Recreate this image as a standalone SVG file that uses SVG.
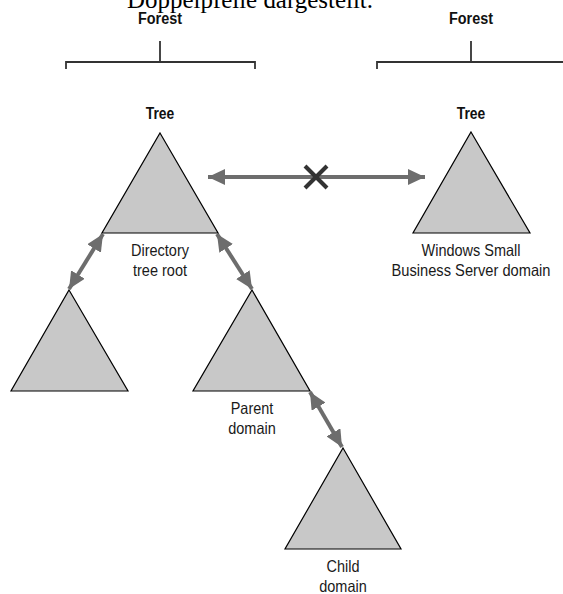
<svg xmlns="http://www.w3.org/2000/svg" width="563" height="594" viewBox="0 0 563 594">
  <style>
    .caption { font-family: "Liberation Serif", "Times New Roman", serif; font-size: 26px; fill: #000; }
    .head { font-family: "Liberation Sans", Arial, sans-serif; font-size: 16px; font-weight: bold; fill: #111; text-anchor: middle; }
    .label { font-family: "Liberation Sans", Arial, sans-serif; font-size: 16.5px; fill: #1a1a1a; text-anchor: middle; }
    .tri { fill: #c8c8c8; stroke: #000; stroke-width: 1.2; stroke-linejoin: miter; }
    .bracket { fill: none; stroke: #333; stroke-width: 1.8; }
    .link { stroke: #6d6d6d; stroke-width: 4; fill: none; marker-start: url(#head); marker-end: url(#head); }
    .cross { stroke: #333; stroke-width: 4; stroke-linecap: butt; }
  </style>
  <defs>
    <marker id="head" viewBox="0 0 17 16" refX="17" refY="8" markerWidth="17" markerHeight="16" markerUnits="userSpaceOnUse" orient="auto-start-reverse">
      <path d="M0,0 L17,8 L0,16 Z" fill="#6d6d6d"/>
    </marker>
  </defs>

  <rect width="563" height="594" fill="#fff"/>

  <!-- running text from the page above, cut by the top edge -->
  <text class="caption" x="127" y="8" textLength="246" lengthAdjust="spacingAndGlyphs">Doppelpfeile dargestellt.</text>

  <!-- forest brackets -->
  <g id="forest-left">
    <text class="head" x="160" y="24" textLength="44" lengthAdjust="spacingAndGlyphs">Forest</text>
    <path class="bracket" d="M160,41 V62 M66,69 V62 H255 V69"/>
  </g>
  <g id="forest-right">
    <text class="head" x="471" y="24" textLength="44" lengthAdjust="spacingAndGlyphs">Forest</text>
    <path class="bracket" d="M471,41 V62 M377,69 V62 H565"/>
  </g>

  <!-- connectors -->
  <g id="connectors">
    <line class="link" x1="208" y1="177" x2="425" y2="177"/>
    <line class="link" x1="103" y1="234" x2="69" y2="289"/>
    <line class="link" x1="217" y1="234" x2="252" y2="289"/>
    <line class="link" x1="310" y1="392" x2="342" y2="447"/>
    <g id="blocked">
      <line class="cross" x1="305" y1="166" x2="327" y2="188"/>
      <line class="cross" x1="327" y1="166" x2="305" y2="188"/>
    </g>
  </g>

  <!-- domain trees -->
  <g id="tree-root">
    <text class="head" x="160" y="119" textLength="28.5" lengthAdjust="spacingAndGlyphs">Tree</text>
    <polygon class="tri" points="160,133 218,233 102,233"/>
    <text class="label" x="160" y="256" textLength="58" lengthAdjust="spacingAndGlyphs">Directory</text>
    <text class="label" x="160" y="276" textLength="54" lengthAdjust="spacingAndGlyphs">tree root</text>
  </g>
  <g id="tree-sbs">
    <text class="head" x="471" y="119" textLength="28.5" lengthAdjust="spacingAndGlyphs">Tree</text>
    <polygon class="tri" points="471,132 530,233 413,233"/>
    <text class="label" x="471" y="256" textLength="99" lengthAdjust="spacingAndGlyphs">Windows Small</text>
    <text class="label" x="471" y="276" textLength="159" lengthAdjust="spacingAndGlyphs">Business Server domain</text>
  </g>
  <g id="domain-left">
    <polygon class="tri" points="69,290 128,391 11,391"/>
  </g>
  <g id="domain-parent">
    <polygon class="tri" points="252,290 310,391 193,391"/>
    <text class="label" x="252" y="414" textLength="42.5" lengthAdjust="spacingAndGlyphs">Parent</text>
    <text class="label" x="252" y="434" textLength="47.5" lengthAdjust="spacingAndGlyphs">domain</text>
  </g>
  <g id="domain-child">
    <polygon class="tri" points="343,448 401,549 285,549"/>
    <text class="label" x="343" y="572" textLength="33" lengthAdjust="spacingAndGlyphs">Child</text>
    <text class="label" x="343" y="592" textLength="47.5" lengthAdjust="spacingAndGlyphs">domain</text>
  </g>
</svg>
